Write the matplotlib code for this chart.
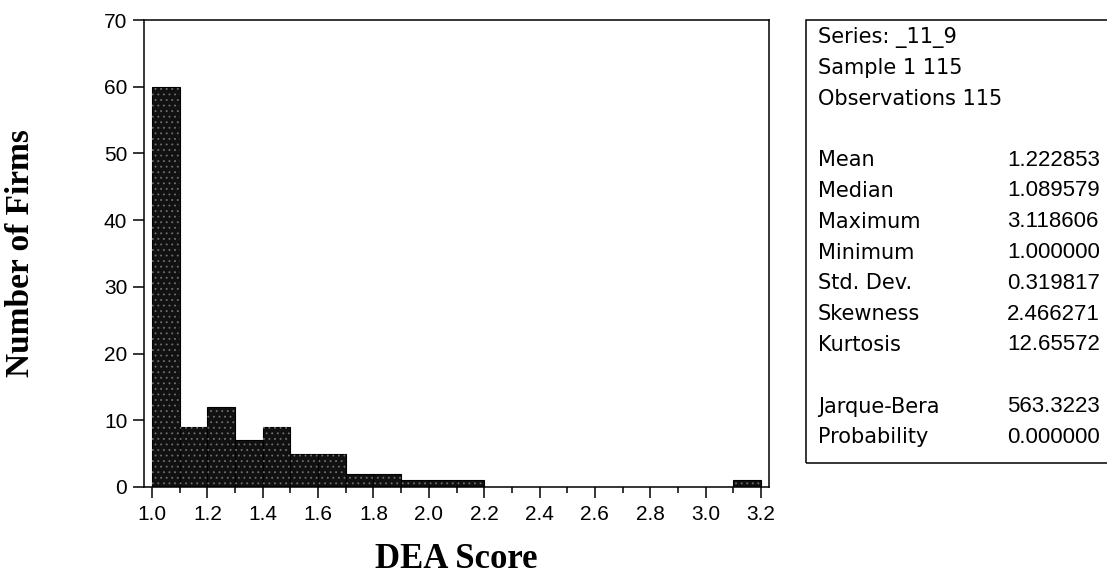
"""Histogram of DEA scores with an EViews-style descriptive statistics box."""

import matplotlib

matplotlib.use("Agg")
import matplotlib.pyplot as plt
import numpy as np
from matplotlib.patches import Rectangle


# Histogram counts, bins of width 0.1 starting at 1.0
BIN_START = 1.0
BIN_WIDTH = 0.1
counts = [60, 9, 12, 7, 9, 5, 5, 2, 2, 1, 1, 1,
          0, 0, 0, 0, 0, 0, 0, 0, 0, 1]

x_ticks = [1.0, 1.2, 1.4, 1.6, 1.8, 2.0, 2.2, 2.4, 2.6, 2.8, 3.0, 3.2]
y_ticks = [0, 10, 20, 30, 40, 50, 60, 70]

header_lines = ["Series: _11_9", "Sample 1 115", "Observations 115"]
stat_names = ["Mean", "Median", "Maximum", "Minimum", "Std. Dev.",
              "Skewness", "Kurtosis"]
stat_values = ["1.222853", "1.089579", "3.118606", "1.000000", "0.319817",
               "2.466271", "12.65572"]
test_names = ["Jarque-Bera", "Probability"]
test_values = ["563.3223", "0.000000"]


def main() -> None:
    W, H = 1107, 577
    fig = plt.figure(figsize=(W / 100, H / 100), dpi=100)
    fig.patch.set_facecolor("white")

    # axes box in pixel terms: left 144, right 769, top 20, bottom 487
    ax = fig.add_axes([144 / W, 1 - 487 / H, (769 - 144) / W, (487 - 20) / H])

    lefts = BIN_START + BIN_WIDTH * np.arange(len(counts))
    ax.bar(lefts, counts, width=BIN_WIDTH, align="edge",
           color="#111111", edgecolor="black", linewidth=0.8, zorder=2)
    # stippled look of the printed bars
    plt.rcParams["hatch.linewidth"] = 0.6
    ax.bar(lefts, counts, width=BIN_WIDTH, align="edge",
           fill=False, hatch="...", edgecolor="#707070", linewidth=0, zorder=3)

    ax.set_xlim(0.971, 3.229)
    ax.set_ylim(0, 70)
    ax.set_xticks(x_ticks)
    ax.set_xticklabels([f"{t:.1f}" for t in x_ticks])
    ax.set_xticks(np.array(x_ticks[:-1]) + BIN_WIDTH, minor=True)
    ax.set_yticks(y_ticks)

    for lab in ax.get_xticklabels() + ax.get_yticklabels():
        lab.set_fontfamily("Liberation Sans")
        lab.set_fontsize(15)

    ax.tick_params(axis="both", which="major", direction="out",
                   length=8, width=1.1, color="black")
    ax.tick_params(axis="x", which="major", pad=5)
    ax.tick_params(axis="y", which="major", pad=4)
    ax.tick_params(axis="x", which="minor", direction="out",
                   length=4, width=1.1)
    for spine in ax.spines.values():
        spine.set_linewidth(1.1)
        spine.set_color("black")

    ax.set_xlabel("DEA Score", family="Liberation Serif", weight="bold", size=25)
    ax.set_ylabel("Number of Firms", family="Liberation Serif", weight="bold",
                  size=24)
    ax.xaxis.label.set_va("baseline")
    ax.xaxis.set_label_coords(0.5, (487 - 568) / 467)
    ax.yaxis.set_label_coords((36 - 144) / 625, 0.5)

    # statistics box on the right, running off the edge of the picture
    box = Rectangle((806 / W, 1 - 463 / H), 0.5, (463 - 20) / H,
                    transform=fig.transFigure, fill=False,
                    edgecolor="black", linewidth=1.1)
    fig.patches.append(box)

    name_font = dict(family="DejaVu Sans", size=15, va="center")
    value_font = dict(family="Liberation Sans", size=16, va="center")
    x_name = 818 / W
    x_value = 1007 / W
    line_y0 = 37
    line_step = 30.8

    def y_of(row: int) -> float:
        return 1 - (line_y0 + row * line_step) / H

    for i, line in enumerate(header_lines):
        fig.text(x_name, y_of(i), line, **name_font)
    for i, (name, value) in enumerate(zip(stat_names, stat_values)):
        fig.text(x_name, y_of(4 + i), name, **name_font)
        fig.text(x_value, y_of(4 + i), value, **value_font)
    for i, (name, value) in enumerate(zip(test_names, test_values)):
        fig.text(x_name, y_of(12 + i), name, **name_font)
        fig.text(x_value, y_of(12 + i), value, **value_font)

    fig.savefig("out.png", dpi=100)
    plt.close(fig)


if __name__ == "__main__":
    main()
